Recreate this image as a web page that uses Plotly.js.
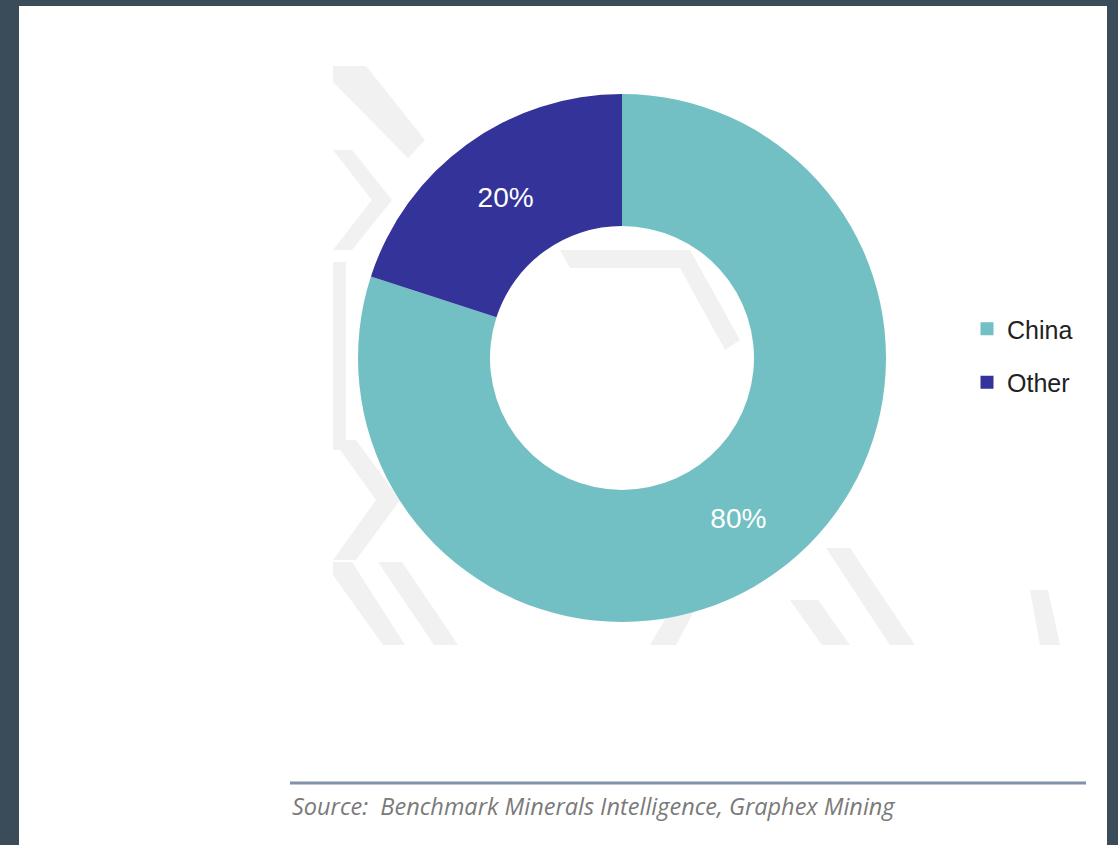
<!DOCTYPE html>
<html>
<head>
<meta charset="utf-8">
<script src="https://cdn.plot.ly/plotly-3.0.1.min.js"></script>
<style>html,body{margin:0;padding:0;background:#3a4b59;}#chart{width:1118px;height:845px;}</style>
</head>
<body>
<div id="chart"></div>
<script>
// ---- data ----
const labels = ["China", "Other"];
const shares = [80, 20];
const sliceColors = ["#72bfc4", "#333399"];
const sourceText = "Source:  Benchmark Minerals Intelligence, Graphex Mining";

const W = 1118, H = 845;
const px = (x, y) => [(x / W).toFixed(5), (1 - y / H).toFixed(5)];
function poly(points) {
  return points.map((p, i) => (i ? "L" : "M") + px(p[0], p[1]).join(",")).join(" ") + " Z";
}

// faint background watermark (decorative chevrons)
const wmColor = "#f1f1f1";
const wmPolys = [
  [[333,66],[366,66],[425,140],[408,158],[333,82]],
  [[333,150],[352,150],[392,200],[352,250],[333,250],[372,200]],
  [[333,262],[346,262],[346,450],[333,450]],
  [[333,440],[356,440],[400,500],[356,560],[333,560],[376,500]],
  [[333,562],[352,562],[405,645],[383,645],[333,575]],
  [[378,562],[402,562],[458,645],[434,645]],
  [[560,250],[690,250],[740,340],[725,350],[680,268],[570,268]],
  [[790,600],[818,600],[850,645],[822,645]],
  [[826,548],[850,548],[915,645],[890,645]],
  [[650,560],[676,560],[700,600],[676,645],[650,645],[676,600]],
  [[1030,590],[1048,590],[1060,645],[1040,645]]
];
const shapes = [
  {type:"rect", xref:"paper", yref:"paper", x0:19/W, x1:1107/W, y0:0, y1:1-6/H,
   fillcolor:"#ffffff", line:{width:0}, layer:"below"}
];
wmPolys.forEach(p => shapes.push({type:"path", xref:"paper", yref:"paper", path:poly(p),
  fillcolor:wmColor, line:{width:0}, layer:"below"}));
shapes.push({type:"line", xref:"paper", yref:"paper", x0:290/W, x1:1086/W, y0:1-783/H, y1:1-783/H,
  line:{color:"#7f92aa", width:3}, layer:"above"});

const traces = [{
  type:"pie",
  labels: labels,
  values: shares,
  marker:{colors: sliceColors, line:{width:0}},
  hole:0.5,
  sort:false,
  direction:"clockwise",
  rotation:0,
  textinfo:"percent",
  textposition:"inside",
  insidetextorientation:"horizontal",
  textfont:{color:"#ffffff", size:28, family:"Liberation Sans, Arial, sans-serif"},
  domain:{x:[358/W, 886/W], y:[1-622/H, 1-94/H]},
  showlegend:false,
  hoverinfo:"label+percent"
}];
// legend entries built from the labels/colors
labels.forEach((lab, i) => traces.push({
  type:"scatter", x:[null], y:[null], mode:"markers", name:lab, legendgroup:lab,
  marker:{symbol:"square", size:13, color:sliceColors[i]}, hoverinfo:"skip"
}));

const layout = {
  width:W, height:H,
  margin:{l:0, r:0, t:0, b:0},
  paper_bgcolor:"#3a4b59",
  plot_bgcolor:"rgba(0,0,0,0)",
  xaxis:{visible:false}, yaxis:{visible:false},
  showlegend:true,
  legend:{x:967/W, xanchor:"left", y:1-306/H, yanchor:"top", tracegroupgap:18,
    bgcolor:"rgba(0,0,0,0)", font:{family:"Liberation Sans, Arial, sans-serif", size:25, color:"#222222"}},
  shapes: shapes,
  annotations:[{xref:"paper", yref:"paper", x:290/W, y:1-806/H, xanchor:"left", yanchor:"middle",
    text:"<i>" + sourceText + "</i>", showarrow:false,
    font:{family:"Open Sans, sans-serif", size:23.5, color:"#7a7a7a"}}]
};
Plotly.newPlot("chart", traces, layout, {displayModeBar:false, staticPlot:true});
</script>
</body>
</html>
